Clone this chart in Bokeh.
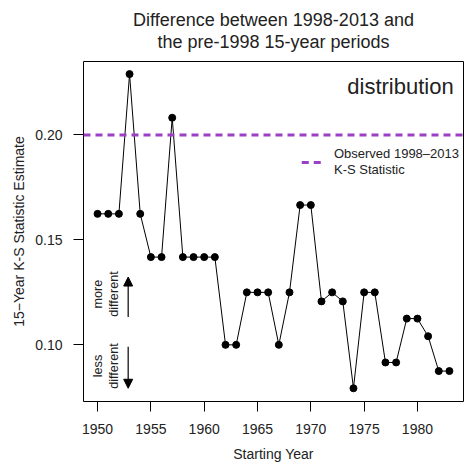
from bokeh.plotting import figure
from bokeh.models import Range1d, FixedTicker, Span, Title, Arrow, NormalHead, NumeralTickFormatter
from bokeh.core.properties import value
from bokeh.embed import file_html
from bokeh.resources import INLINE

FONT = "Liberation Sans"

# ---- data ----
years = [1950, 1951, 1952, 1953, 1954, 1955, 1956, 1957, 1958, 1959,
         1960, 1961, 1962, 1963, 1964, 1965, 1966, 1967, 1968, 1969,
         1970, 1971, 1972, 1973, 1974, 1975, 1976, 1977, 1978, 1979,
         1980, 1981, 1982, 1983]
ks_stat = [0.1624, 0.1624, 0.1624, 0.2290, 0.1624, 0.1418, 0.1418, 0.2082, 0.1418, 0.1418,
           0.1418, 0.1418, 0.1000, 0.1000, 0.1250, 0.1250, 0.1250, 0.1000, 0.1250, 0.1666,
           0.1666, 0.1207, 0.1250, 0.1207, 0.0793, 0.1250, 0.1250, 0.0916, 0.0916, 0.1125,
           0.1125, 0.1041, 0.0875, 0.0875]
observed_ks = 0.20
x_ticks = [1950, 1955, 1960, 1965, 1970, 1975, 1980]
y_ticks = [0.10, 0.15, 0.20]

title_lines = ["Difference between 1998-2013 and", "the pre-1998 15-year periods"]
x_label = "Starting Year"
y_label = "15\u2212Year K-S Statistic Estimate"
panel_label = "distribution"
legend_lines = ["Observed 1998\u20132013", "K-S Statistic"]

PURPLE = "#9a3fc6"

p = figure(width=467, height=466, output_backend="svg", toolbar_location=None,
           x_range=Range1d(1948.68, 1984.32), y_range=Range1d(0.073, 0.235),
           min_border_left=83, min_border_right=4, min_border_top=61, min_border_bottom=65)
p.title = None
# blank spacer between frame and title lines
p.add_layout(Title(text=" ", align="center", text_font=FONT, text_font_size="2px",
                   standoff=6), "above")
p.add_layout(Title(text=title_lines[1], align="center", text_font=FONT, text_font_size="18px",
                   text_font_style="normal", text_color="#222222", standoff=0), "above")
p.add_layout(Title(text=title_lines[0], align="center", text_font=FONT, text_font_size="18px",
                   text_font_style="normal", text_color="#222222", standoff=0), "above")

p.xgrid.visible = False
p.ygrid.visible = False
p.outline_line_color = "black"
p.outline_line_width = 1
p.background_fill_color = "white"
p.border_fill_color = "white"

xax = p.below[0]
yax = p.left[0]
for ax in (xax, yax):
    ax.axis_line_color = None
    ax.major_tick_out = 10
    ax.major_tick_in = 0
    ax.minor_tick_line_color = None
    ax.major_tick_line_color = "black"
    ax.major_label_text_font = FONT
    ax.major_label_text_font_size = "14px"
    ax.major_label_text_color = "#222222"
    ax.axis_label_text_font = FONT
    ax.axis_label_text_font_size = "14px"
    ax.axis_label_text_font_style = "normal"
    ax.axis_label_text_color = "#222222"

xax.ticker = FixedTicker(ticks=x_ticks)
yax.ticker = FixedTicker(ticks=y_ticks)
yax.formatter = NumeralTickFormatter(format="0.00")
yax.major_label_orientation = "horizontal"
xax.axis_label = x_label
yax.axis_label = y_label
xax.major_label_standoff = 12
yax.major_label_standoff = 11
xax.axis_label_standoff = 9
yax.axis_label_standoff = 5

# observed line
p.add_layout(Span(location=observed_ks, dimension="width", line_color=PURPLE,
                  line_dash="7 5", line_width=3))

# series
p.line(years, ks_stat, line_color="black", line_width=1)
p.scatter(years, ks_stat, size=7, fill_color="black", line_color="black")

# legend (manual)
leg_x0, leg_x1, leg_y = 1969.15, 1971.02, 0.1869
p.segment(x0=[leg_x0], y0=[leg_y], x1=[leg_x1], y1=[leg_y], line_color=PURPLE,
          line_dash="7 5", line_width=3)
leg_tx = 1972.17
p.text(x=[leg_tx, leg_tx], y=[0.1913, 0.1837], text=legend_lines,
       text_font=value(FONT), text_font_size="13px", text_color="#222222",
       text_align="left", text_baseline="middle")

# panel label
p.text(x=[1983.4], y=[0.2233], text=[panel_label], text_font=value(FONT),
       text_font_size="22px", text_color="#222222", text_align="right", text_baseline="middle")

# direction annotations
ann_x = 1950.8
p.text(x=[ann_x, ann_x], y=[0.1242, 0.0899], text=["more\ndifferent", "less\ndifferent"],
       angle=1.5708, text_font=value(FONT), text_font_size="12.7px", text_color="#222222",
       text_align="center", text_baseline="middle", text_line_height=1.15)
arr_x = 1952.87
p.add_layout(Arrow(end=NormalHead(size=9, fill_color="black", line_color="black"),
                   x_start=arr_x, y_start=0.1133, x_end=arr_x, y_end=0.1323,
                   line_color="black", line_width=1.2))
p.add_layout(Arrow(end=NormalHead(size=9, fill_color="black", line_color="black"),
                   x_start=arr_x, y_start=0.0991, x_end=arr_x, y_end=0.0793,
                   line_color="black", line_width=1.2))

open("out.html", "w").write(file_html(p, INLINE))
